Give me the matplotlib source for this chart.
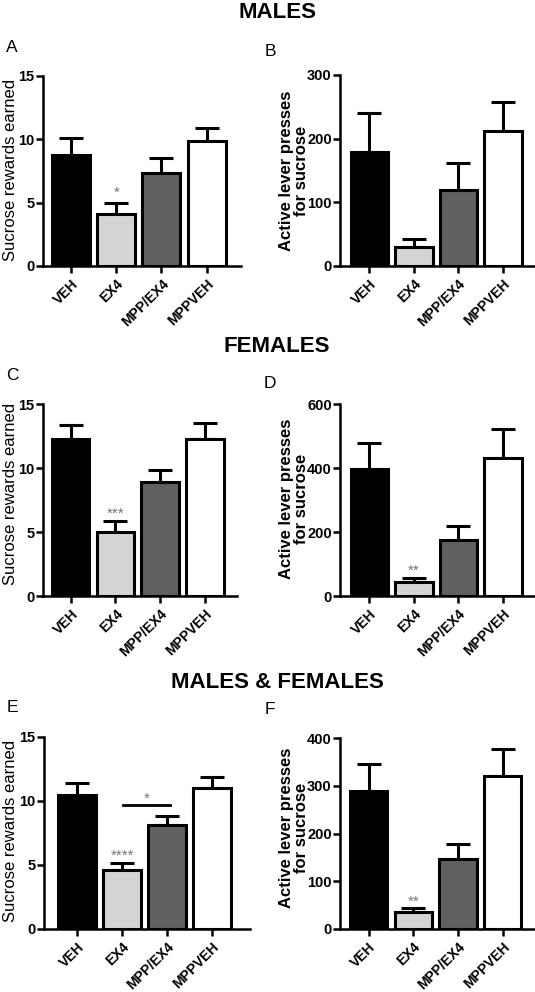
import numpy as np
import matplotlib
matplotlib.use('Agg')
import matplotlib.pyplot as plt

plt.rcParams['font.family'] = ['Liberation Sans', 'DejaVu Sans']

groups = ["VEH", "EX4", "MPP/EX4", "MPPVEH"]
bar_colors = ["#000000", "#d4d4d4", "#606060", "#ffffff"]

# rewards earned (mean, sem)
males_rewards = [8.74, 4.13, 7.34, 9.87]
males_rewards_sem = [1.36, 0.84, 1.19, 1.05]
females_rewards = [12.3, 5.0, 8.92, 12.23]
females_rewards_sem = [1.06, 0.84, 0.91, 1.26]
all_rewards = [10.5, 4.58, 8.1, 11.02]
all_rewards_sem = [0.9, 0.58, 0.75, 0.86]

# active lever presses (mean, sem)
males_presses = [179, 30, 120, 212]
males_presses_sem = [62, 12, 41, 45]
females_presses = [398, 44, 174, 430]
females_presses_sem = [79, 12, 45, 91]
all_presses = [289, 35, 147, 321]
all_presses_sem = [56, 9, 30, 55]

W, H = 535, 992
fig = plt.figure(figsize=(W / 100, H / 100), dpi=100)


def px_axes(left, right, top, bottom):
    return fig.add_axes([left / W, 1 - bottom / H, (right - left) / W, (bottom - top) / H])


def bar_panel(ax, means, sems, ymax, step, xlim, stars=None):
    x = np.arange(len(groups))
    ax.errorbar(x, means, yerr=[np.zeros(len(sems)), sems], fmt='none',
                ecolor='black', elinewidth=2.2, capsize=8.5, capthick=2.2, zorder=1)
    ax.bar(x, means, width=0.84, color=bar_colors, edgecolor='black',
           linewidth=2.2, zorder=2)
    ax.set_ylim(0, ymax)
    ax.set_xlim(*xlim)
    ax.set_yticks(np.arange(0, ymax + step / 2, step))
    ax.set_xticks(x)
    ax.set_xticklabels(groups, rotation=45, ha='right', rotation_mode='anchor',
                       fontsize=10, fontweight='bold')
    for lab in ax.get_yticklabels():
        lab.set_fontweight('bold')
        lab.set_fontsize(10.5)
    ax.tick_params(axis='both', width=1.8, length=5)
    ax.tick_params(axis='y', pad=1)
    ax.tick_params(axis='x', pad=3)
    for s in ['top', 'right']:
        ax.spines[s].set_visible(False)
    for s in ['left', 'bottom']:
        ax.spines[s].set_linewidth(1.8)
    if stars:
        i, ytxt, txt = stars
        ax.text(i, ytxt, txt, ha='center', va='center', color='#777777', fontsize=11)


# MALES
axA = px_axes(43, 241, 76, 266)
bar_panel(axA, males_rewards, males_rewards_sem, 15, 5, (-0.62, 3.76), (1, 5.75, "*"))
axB = px_axes(340, 534, 75, 266)
bar_panel(axB, males_presses, males_presses_sem, 300, 100, (-0.66, 3.7))

# FEMALES
axC = px_axes(43, 237, 404, 596)
bar_panel(axC, females_rewards, females_rewards_sem, 15, 5, (-0.62, 3.72), (1, 6.45, "***"))
axD = px_axes(340, 534, 404, 596)
bar_panel(axD, females_presses, females_presses_sem, 600, 200, (-0.66, 3.7), (1, 78, "**"))

# MALES & FEMALES
axE = px_axes(44, 250, 737, 929)
bar_panel(axE, all_rewards, all_rewards_sem, 15, 5, (-0.74, 3.85), (1, 5.75, "****"))
axE.plot([1.03, 2.06], [9.66, 9.66], color='black', lw=2)
axE.text(1.55, 10.2, "*", ha='center', va='center', color='#777777', fontsize=11)
axF = px_axes(340, 534, 738, 929)
bar_panel(axF, all_presses, all_presses_sem, 400, 100, (-0.64, 3.7), (1, 58, "**"))

# titles
for ytitle, title in [(12, "MALES"), (347, "FEMALES"), (682, "MALES & FEMALES")]:
    fig.text(277 / W, 1 - ytitle / H, title, ha='center', va='center',
             fontsize=16, fontweight='bold')

# panel letters
for (lx, ly), letter in zip([(12, 48), (270, 52), (12, 375), (270, 384), (12, 707), (270, 709)],
                            "ABCDEF"):
    fig.text(lx / W, 1 - ly / H, letter, ha='center', va='center', fontsize=12.5)

# y labels
for (lx, ly) in [(11, 170), (11, 494), (11, 831)]:
    fig.text(lx / W, 1 - ly / H, "Sucrose rewards earned", rotation=90,
             ha='center', va='center', fontsize=12)
for (lx, ly) in [(294, 171), (294, 499), (294, 828)]:
    fig.text(lx / W, 1 - ly / H, "Active lever presses\nfor sucrose", rotation=90,
             ha='center', va='center', fontsize=12, fontweight='bold',
             linespacing=1.0)

fig.savefig("out.png", dpi=100)
